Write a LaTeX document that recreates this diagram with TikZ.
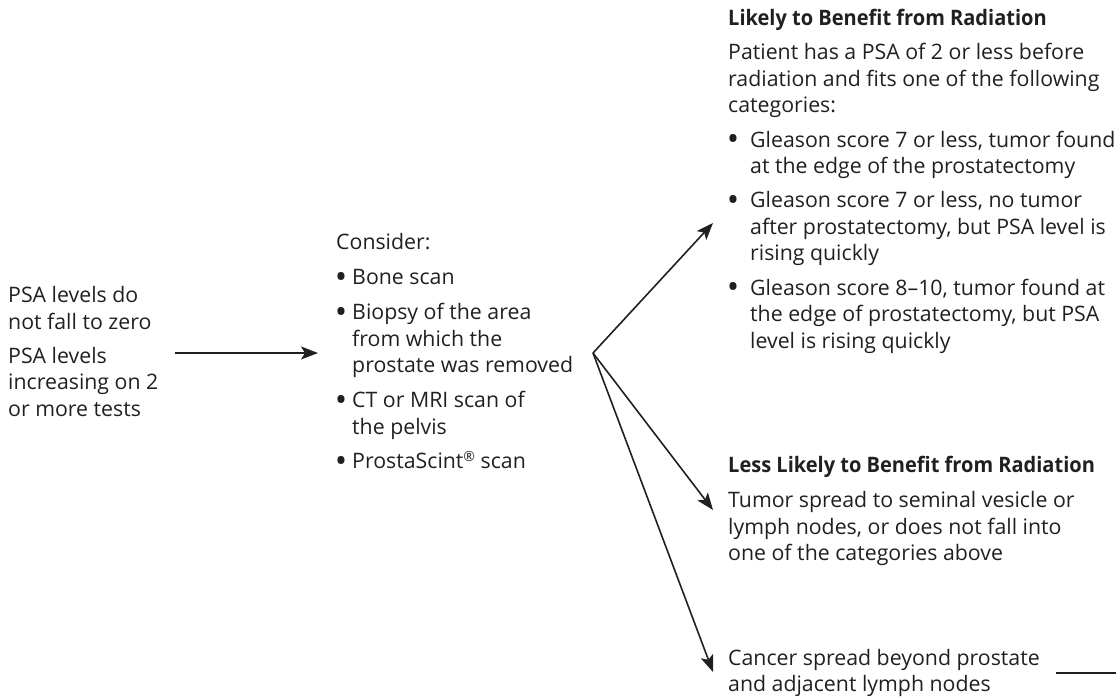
\documentclass[tikz,border=0pt]{standalone}
\usepackage{fontspec}
\setmainfont{Open Sans}
\newfontfamily\hdfont[FakeStretch=0.94]{Open Sans}
\usetikzlibrary{arrows.meta}
\definecolor{ink}{RGB}{35,31,32}
\newcommand{\lines}[1]{\begin{tabular}[t]{@{}l@{}}#1\end{tabular}}
\begin{document}
\begin{tikzpicture}[x=1pt,y=-1pt,
  txt/.style={anchor=base west,inner sep=0pt,text=ink,font=\fontsize{21.3}{26.7}\selectfont},
  hd/.style={txt,font=\fontsize{21.3}{26.7}\selectfont\hdfont\bfseries},
  bul/.style={anchor=base,inner sep=0pt,text=ink,yshift=-3.5pt,font=\fontsize{33}{26.7}\selectfont},
  arr/.style={draw=ink,line width=1.6pt,-{Stealth[length=17pt,width=13pt,inset=4pt]}},
  rule/.style={draw=ink,line width=1.6pt},
]
\useasboundingbox (0,0) rectangle (1116,696);

% left block
\node[txt] (l1) at (8,302.5) {\lines{PSA levels do\\not fall to zero}};
\node[txt] (l2) at (8,363) {\lines{PSA levels\\increasing on 2\\or more tests}};

% middle block
\node[txt] (cons) at (336,249.5) {Consider:};
\node[bul] (mb1) at (341,284.5) {•};
\node[txt] (m1) at (352,284.5) {Bone scan};
\node[bul] (mb2) at (341,319.5) {•};
\node[txt] (m2) at (352,319.5) {\lines{Biopsy of the area\\from which the\\prostate was removed}};
\node[bul] (mb3) at (341,407.5) {•};
\node[txt] (m3) at (352,407.5) {\lines{CT or MRI scan of\\the pelvis}};
\node[bul] (mb4) at (341,468.5) {•};
\node[txt] (m4) at (352,468.5) {ProstaScint{\fontsize{14}{14}\selectfont\raisebox{7pt}{®}} scan};

% right column, top
\node[hd] (h1) at (728,25.5) {Likely to Benefit from Radiation};
\node[txt] (p1) at (728,59.5) {\lines{Patient has a PSA of 2 or less before\\radiation and fits one of the following\\categories:}};
\node[bul] (rb1) at (733,147) {•};
\node[txt] (r1) at (750,147) {\lines{Gleason score 7 or less, tumor found\\at the edge of the prostatectomy}};
\node[bul] (rb2) at (733,207.5) {•};
\node[txt] (r2) at (750,207.5) {\lines{Gleason score 7 or less, no tumor\\after prostatectomy, but PSA level is\\rising quickly}};
\node[bul] (rb3) at (733,295) {•};
\node[txt] (r3) at (750,295) {\lines{Gleason score 8–10, tumor found at\\the edge of prostatectomy, but PSA\\level is rising quickly}};

% right column, middle
\node[hd] (h2) at (728,472.5) {Less Likely to Benefit from Radiation};
\node[txt] (p2) at (728,507.5) {\lines{Tumor spread to seminal vesicle or\\lymph nodes, or does not fall into\\one of the categories above}};

% right column, bottom
\node[txt] (p3) at (728,665) {\lines{Cancer spread beyond prostate\\and adjacent lymph nodes}};

% connectors
\coordinate (a0) at (175,353);
\coordinate (a1) at (318,353);
\coordinate (br) at (593,353);
\coordinate (t1) at (713,223);
\coordinate (t2) at (713,510);
\coordinate (t3) at (713,672);
\coordinate (e1) at (1056,673);
\coordinate (e2) at (1116,673);

\draw[arr] (a0) -- (a1);
\draw[arr] (br) -- (t1);
\draw[arr] (br) -- (t2);
\draw[arr] (br) -- (t3);
\draw[rule] (e1) -- (e2);
\end{tikzpicture}
\end{document}
